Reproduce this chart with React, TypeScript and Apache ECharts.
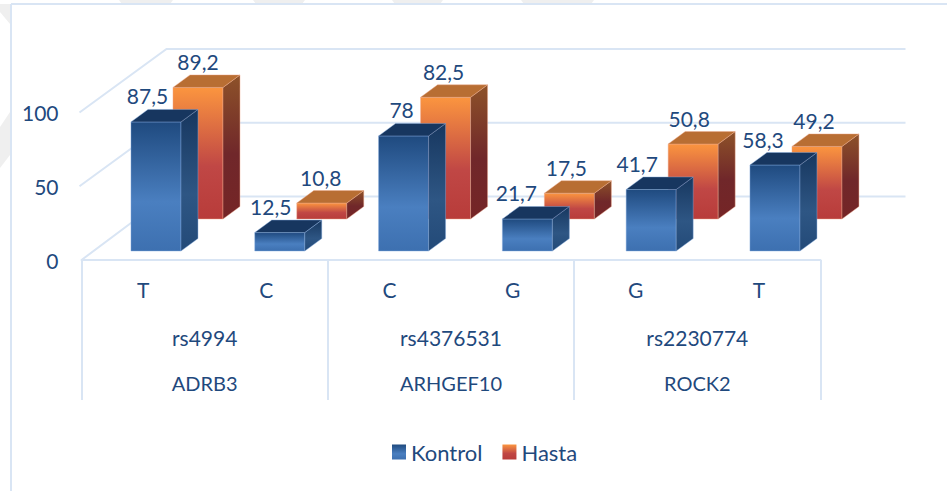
import React, { useEffect, useRef } from "react";
import * as echarts from "echarts";

const alleles = ["T", "C", "C", "G", "G", "T"];
const snps = ["rs4994", "rs4376531", "rs2230774"];
const genes = ["ADRB3", "ARHGEF10", "ROCK2"];
const kontrol = [87.5, 12.5, 78, 21.7, 41.7, 58.3];
const hasta = [89.2, 10.8, 82.5, 17.5, 50.8, 49.2];
const yTicks = [0, 50, 100];

const kontrolLabelShift = [-8.5, -9, -2, -11, -14, -12];
const hastaLabelShift = [0, -1, -2, -3, -4, -3];

const FONT = "Lato";
const TEXT = "#1f497d";
const LINE = "#d9e5f4";

const grad = (stops: [number, string][]) =>
  new echarts.graphic.LinearGradient(0, 0, 0, 1, stops.map(([offset, color]) => ({ offset, color })));

const kontrolFront = () => grad([[0, "#1f4a7f"], [0.62, "#4a7fc0"], [1, "#3d70b0"]]);
const kontrolSide = () => grad([[0, "#17375f"], [0.6, "#2e5684"], [1, "#234a78"]]);
const hastaFront = () => grad([[0, "#fb953f"], [0.6, "#c04745"], [1, "#b83c3a"]]);
const hastaSide = () => grad([[0, "#8d5229"], [0.55, "#70272a"], [1, "#752526"]]);

function barRenderer(
  offsetX: number,
  rise: number,
  front: () => any,
  side: () => any,
  topColor: string,
  edge: string,
  shifts: number[],
) {
  const w = 50;
  const dx = 17;
  const dy = 12.5;
  return (params: any, api: any) => {
    const i = api.value(0);
    const v = api.value(1);
    const zero = api.coord([i, 0]);
    const top = api.coord([i, v]);
    const x = zero[0] + offsetX + i * 0.63;
    const b = zero[1] - rise;
    const t = b - (zero[1] - top[1]);
    const poly = (points: number[][], fill: any, stroke: string) => ({
      type: "polygon",
      shape: { points },
      style: { fill, stroke, lineWidth: 0.8 },
    });
    return {
      type: "group",
      children: [
        poly([[x, t], [x + w, t], [x + w, b], [x, b]], front(), edge),
        poly([[x + w, t], [x + w + dx, t - dy], [x + w + dx, b - dy], [x + w, b]], side(), edge),
        poly([[x, t], [x + dx, t - dy], [x + w + dx, t - dy], [x + w, t]], topColor, edge),
        {
          type: "text",
          style: {
            text: String(v).replace(".", ","),
            x: x + w / 2 + shifts[i],
            y: t - 26,
            align: "center",
            verticalAlign: "middle",
            fontSize: 21,
            fontFamily: FONT,
            fill: TEXT,
          },
        },
      ],
    };
  };
}

function wallRenderer(params: any, api: any) {
  const v = api.value(0);
  const left = params.coordSys.x;
  const right = left + params.coordSys.width;
  const y = api.coord([0, v])[1];
  const dx = 85;
  const dy = 63.5;
  const startX = v === 0 ? left : left - 2;
  return {
    type: "polyline",
    shape: { points: [[startX, y], [left + dx, y - dy], [right + dx, y - dy]] },
    style: { fill: "none", stroke: LINE, lineWidth: 2 },
  };
}

const watermark = [
  [[119, 0], [173, 0], [170, 4], [122, 4]],
  [[253, 0], [305, 0], [302, 4], [256, 4]],
  [[392, 0], [443, 0], [440, 4], [395, 4]],
  [[521, 0], [594, 0], [591, 4], [524, 4]],
  [[0, 4], [10, 4], [10, 24], [0, 12]],
  [[0, 127], [10, 112], [10, 155], [0, 168]],
];

export default function App() {
  const ref = useRef<HTMLDivElement>(null);
  useEffect(() => {
    document.body.style.margin = "0";
    const chart = echarts.init(ref.current!, undefined, { renderer: "svg" });
    const axisText = { color: TEXT, fontFamily: FONT, fontSize: 21 };
    chart.setOption({
      animation: false,
      backgroundColor: "#ffffff",
      textStyle: { fontFamily: FONT },
      grid: { left: 81.5, top: 112.5, width: 739, height: 147.5, containLabel: false },
      legend: {
        left: 387,
        top: 436,
        itemWidth: 14,
        itemHeight: 15,
        itemGap: 20,
        textStyle: { color: TEXT, fontFamily: FONT, fontSize: 22, padding: [0, 0, 14, 0] },
        data: [
          { name: "Kontrol", icon: "rect", itemStyle: { color: kontrolFront() } },
          { name: "Hasta", icon: "rect", itemStyle: { color: hastaFront() } },
        ],
      },
      xAxis: [
        {
          type: "category",
          data: alleles,
          position: "bottom",
          axisLine: { lineStyle: { color: LINE, width: 2 } },
          axisTick: { show: false },
          axisLabel: { ...axisText, margin: 19, interval: 0 },
        },
        {
          type: "category",
          data: snps,
          position: "bottom",
          axisLine: { show: false },
          axisTick: { show: false },
          axisLabel: { ...axisText, margin: 67, interval: 0 },
        },
        {
          type: "category",
          data: genes,
          position: "bottom",
          axisLine: { show: false },
          axisTick: { show: true, length: 140, lineStyle: { color: LINE, width: 2 } },
          axisLabel: { ...axisText, fontSize: 20, margin: 113, interval: 0 },
        },
      ],
      yAxis: {
        type: "value",
        min: 0,
        max: 100,
        interval: 50,
        axisLine: { show: false },
        axisTick: { show: false },
        splitLine: { show: false },
        axisLabel: { ...axisText, margin: 23 },
      },
      graphic: [
        ...watermark.map((points) => ({
          type: "polygon",
          z: -10,
          shape: { points },
          style: { fill: "#efefef" },
        })),
        { type: "line", z: -9, shape: { x1: 11, y1: 4, x2: 947, y2: 4 }, style: { stroke: LINE, lineWidth: 2 } },
        { type: "line", z: -9, shape: { x1: 11, y1: 4, x2: 11, y2: 491 }, style: { stroke: LINE, lineWidth: 2 } },
      ],
      series: [
        {
          type: "custom",
          name: "wall",
          coordinateSystem: "cartesian2d",
          z: 1,
          data: yTicks.map((v) => [v]),
          encode: { y: 0 },
          renderItem: wallRenderer,
          silent: true,
        },
        {
          type: "custom",
          name: "Hasta",
          coordinateSystem: "cartesian2d",
          z: 2,
          itemStyle: { color: hastaFront() },
          data: hasta.map((v, i) => [i, v]),
          encode: { x: 0, y: 1 },
          renderItem: barRenderer(29.9, 41, hastaFront, hastaSide, "#b86e33", "rgba(240,170,140,0.55)", hastaLabelShift),
        },
        {
          type: "custom",
          name: "Kontrol",
          coordinateSystem: "cartesian2d",
          z: 3,
          itemStyle: { color: kontrolFront() },
          data: kontrol.map((v, i) => [i, v]),
          encode: { x: 0, y: 1 },
          renderItem: barRenderer(-12.1, 9, kontrolFront, kontrolSide, "#17365f", "rgba(130,170,220,0.55)", kontrolLabelShift),
        },
      ],
    });
    return () => chart.dispose();
  }, []);
  return <div ref={ref} style={{ position: "fixed", left: 0, top: 0, width: 947, height: 491 }} />;
}
